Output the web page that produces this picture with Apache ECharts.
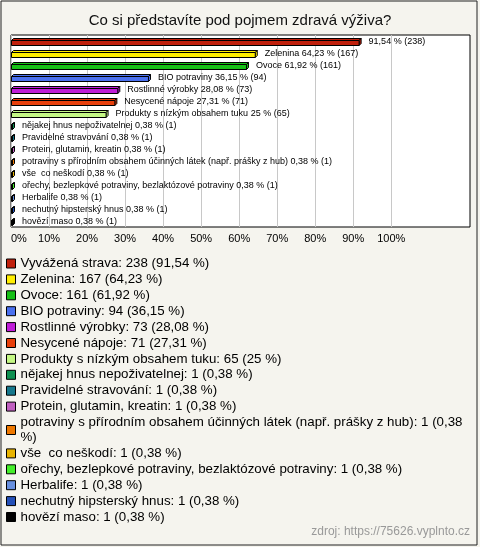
<!DOCTYPE html>
<html>
<head>
<meta charset="utf-8">
<script src="https://cdn.jsdelivr.net/npm/echarts@6/dist/echarts.min.js"></script>
<style>
html,body{margin:0;padding:0;background:#f5f4ee;}
#c{width:480px;height:547px;}
</style>
</head>
<body>
<div id="c"></div>
<script>
var titleText = 'Co si představíte pod pojmem zdravá výživa?';
var sourceText = 'zdroj: https://75626.vyplnto.cz';
var categories = [
  'Vyvážená strava',
  'Zelenina',
  'Ovoce',
  'BIO potraviny',
  'Rostlinné výrobky',
  'Nesycené nápoje',
  'Produkty s nízkým obsahem tuku',
  'nějakej hnus nepoživatelnej',
  'Pravidelné stravování',
  'Protein, glutamin, kreatin',
  'potraviny s přírodním obsahem účinných látek (např. prášky z hub)',
  'vše  co neškodí',
  'ořechy, bezlepkové potraviny, bezlaktózové potraviny',
  'Herbalife',
  'nechutný hipsterský hnus',
  'hovězí maso'
];
var counts = [238, 167, 161, 94, 73, 71, 65, 1, 1, 1, 1, 1, 1, 1, 1, 1];
var percents = [91.54, 64.23, 61.92, 36.15, 28.08, 27.31, 25, 0.38, 0.38, 0.38, 0.38, 0.38, 0.38, 0.38, 0.38, 0.38];
var colors = ['#c0200c', '#ffee00', '#16c016', '#4a70ee', '#c01ed8', '#e8400c', '#c4f884', '#0e9050',
              '#16788c', '#c060c0', '#ee7800', '#e8b400', '#44ee2a', '#6890e0', '#2450b8', '#000000'];
var tickLabels = ['0%', '10%', '20%', '30%', '40%', '50%', '60%', '70%', '80%', '90%', '100%'];

var FONT = '"Liberation Sans", Arial, sans-serif';
var LEGEND_FONT_SIZE = 13.3;
var LEGEND_TEXT_WIDTH = 452;

function fmt(p) { return String(p).replace('.', ','); }

// word wrap for legend text, measured with the same font
var measureCtx = document.createElement('canvas').getContext('2d');
measureCtx.font = LEGEND_FONT_SIZE + 'px ' + FONT;
function wrap(text, maxW) {
  var words = text.split(' ');
  var lines = [], cur = '';
  for (var i = 0; i < words.length; i++) {
    var trial = cur === '' ? words[i] : cur + ' ' + words[i];
    if (cur !== '' && words[i] !== '' && measureCtx.measureText(trial).width > maxW) {
      lines.push(cur);
      cur = words[i];
    } else {
      cur = trial;
    }
  }
  lines.push(cur);
  return lines.join('\n');
}

var chart = echarts.init(document.getElementById('c'), null, {renderer: 'canvas'});

var series = categories.map(function (name, i) {
  return {
    type: 'custom',
    name: name,
    itemStyle: {color: colors[i]},
    data: [[percents[i], i]],
    renderItem: function (params, api) {
      var v = api.value(0), c = api.value(1);
      var p0 = api.coord([0, c]);
      var p1 = api.coord([v, c]);
      var d = 2, h = 5;
      var top = Math.round(p0[1] - 1.5) + 0.5;
      var x0 = Math.round(p0[0]) + 0.5, x1 = Math.max(p1[0], x0 + 1);
      var col = api.visual('color');
      var st = {fill: col, stroke: '#000', lineWidth: 1};
      var lbl = (c === 0 ? '' : name + ' ') + fmt(percents[i]) + ' % (' + counts[i] + ')';
      return {
        type: 'group',
        children: [
          {type: 'polygon', shape: {points: [[x0, top], [x0 + d, top - d], [x1 + d, top - d], [x1, top]]}, style: st},
          {type: 'polygon', shape: {points: [[x1, top], [x1 + d, top - d], [x1 + d, top + h - d], [x1, top + h]]}, style: st},
          {type: 'rect', shape: {x: x0, y: top, width: x1 - x0, height: h}, style: st},
          {type: 'text', x: p1[0] + 9.5, y: p0[1] + 0.5,
           style: {text: lbl, fill: '#000', font: '9px ' + FONT,
                   verticalAlign: 'middle', align: 'left'}}
        ]
      };
    }
  };
});

var gridColors = [];
for (var k = 0; k < tickLabels.length; k++) gridColors.push('#c8c8c8');
gridColors.push('rgba(0,0,0,0)', 'rgba(0,0,0,0)', 'rgba(0,0,0,0)');

chart.setOption({
  backgroundColor: '#f5f4ee',
  animation: false,
  title: [
    {text: titleText, left: 'center', top: 13, padding: 0,
     textStyle: {fontFamily: FONT, fontSize: 15, fontWeight: 'normal', color: '#111'}},
    {text: sourceText, right: 10, bottom: 9, padding: 0,
     textStyle: {fontFamily: FONT, fontSize: 12, fontWeight: 'normal', color: '#999'}}
  ],
  graphic: [
    {type: 'rect', shape: {x: 1, y: 1, width: 476, height: 544}, style: {fill: 'none', stroke: '#222', lineWidth: 1}, z: 100}
  ],
  grid: {left: 11, right: 10, top: 35, height: 192, show: true, backgroundColor: '#fff', borderColor: '#000', borderWidth: 1, containLabel: false},
  xAxis: {
    type: 'value', min: 0, max: 120.7, interval: 10,
    axisLine: {show: false}, axisTick: {show: false},
    splitLine: {show: true, lineStyle: {color: gridColors, width: 1}},
    axisLabel: {
      margin: 6, color: '#000', fontSize: 11, fontFamily: FONT,
      alignMinLabel: 'left', showMaxLabel: false,
      formatter: function (v) { var idx = Math.round(v / 10); return (v <= 100 && Math.abs(v - idx * 10) < 1e-6) ? tickLabels[idx] : ''; }
    }
  },
  yAxis: {
    type: 'category', data: categories, inverse: true,
    axisLine: {show: false}, axisTick: {show: false}, axisLabel: {show: false}, splitLine: {show: false}
  },
  legend: {
    orient: 'vertical', left: 6, top: 256, padding: 0, itemWidth: 9, itemHeight: 9, itemGap: 0.9,
    icon: 'rect', selectedMode: false,
    data: categories,
    itemStyle: {borderColor: '#000', borderWidth: 1},
    textStyle: {fontFamily: FONT, fontSize: LEGEND_FONT_SIZE, color: '#000', lineHeight: 15},
    formatter: function (name) {
      var i = categories.indexOf(name);
      return wrap(name + ': ' + counts[i] + ' (' + fmt(percents[i]) + ' %)', LEGEND_TEXT_WIDTH);
    }
  },
  series: series
});
</script>
</body>
</html>
